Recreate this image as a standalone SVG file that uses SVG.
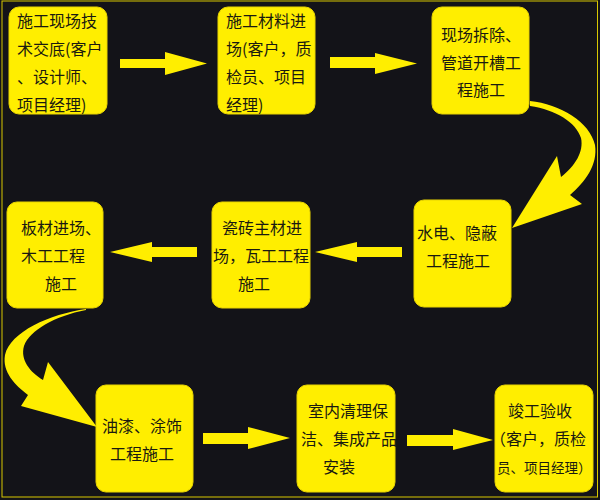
<svg xmlns="http://www.w3.org/2000/svg" width="600" height="500" viewBox="0 0 600 500">
<style>
.bg{fill:#131318}
.frame{fill:none;stroke:#d8c800;stroke-width:1}
.box{fill:#ffee00;stroke:#e8d400;stroke-width:1}
.arr{fill:#ffee00}
text{font-family:"Noto Sans CJK SC","Noto Sans CJK TC",sans-serif;font-size:16px;fill:#1a1a10}
.c{text-anchor:middle}
.sm{font-size:13.5px}
</style>
<rect class="bg" x="0" y="0" width="600" height="500"/>
<rect class="frame" x="2" y="1" width="595.5" height="496"/>
<g id="connectors">
<polygon class="arr" points="120,59 165,59 165,52 207,63.5 165,75 165,68 120,68"/>
<polygon class="arr" points="330,57 375,57 375,53 417,63.5 375,74 375,68 330,68"/>
<path class="arr" d="M530,101 C560,104 590,122 595,145 C598,165 585,182 570,195 L582,204 L512,228 L557,156 L561,177 C575,166 584,152 581,138 C576,122 556,110 530,106 Z"/>
<polygon class="arr" points="402,247 357,247 357,242 315,252 357,262 357,257 402,257"/>
<polygon class="arr" points="197,247 152,247 152,242 110,252 152,262 152,257 197,257"/>
<path class="arr" d="M86,309 C50,314 10,332 5,355 C2,372 15,385 28,395 L21,406 L97,427 L48,362 L43,380 C30,372 20,360 24,346 C30,330 55,316 86,310 Z"/>
<polygon class="arr" points="203,433 248,433 248,427 290,438 248,449 248,444 203,444"/>
<polygon class="arr" points="407,435 453,435 453,429 493,440 453,450 453,446 407,446"/>
</g>
<g id="n1">
<rect class="box" x="9" y="7" width="98" height="107" rx="10"/>
<text x="17" y="27">施工现场技</text>
<text x="17" y="55">术交底(客户</text>
<text x="17" y="83">、设计师、</text>
<text x="17" y="111">项目经理)</text>
</g>
<g id="n2">
<rect class="box" x="218" y="7" width="97" height="107" rx="10"/>
<text x="226" y="27">施工材料进</text>
<text x="226" y="55">场(客户，质</text>
<text x="226" y="83">检员、项目</text>
<text x="226" y="111">经理)</text>
</g>
<g id="n3">
<rect class="box" x="432" y="7" width="97" height="107" rx="10"/>
<text class="c" x="481" y="41">现场拆除、</text>
<text class="c" x="481" y="69">管道开槽工</text>
<text class="c" x="481" y="96">程施工</text>
</g>
<g id="n4">
<rect class="box" x="414" y="200" width="97" height="107" rx="10"/>
<text x="417" y="239">水电、隐蔽</text>
<text x="426" y="267">工程施工</text>
</g>
<g id="n5">
<rect class="box" x="212" y="202" width="98" height="106" rx="10"/>
<text x="222" y="234">瓷砖主材进</text>
<text x="213" y="262">场，瓦工工程</text>
<text x="238" y="290">施工</text>
</g>
<g id="n6">
<rect class="box" x="7" y="202" width="96" height="106" rx="10"/>
<text x="21" y="234">板材进场、</text>
<text x="21" y="262">木工工程</text>
<text x="45" y="290">施工</text>
</g>
<g id="n7">
<rect class="box" x="96" y="385" width="97" height="107" rx="10"/>
<text x="102" y="432">油漆、涂饰</text>
<text x="110" y="460">工程施工</text>
</g>
<g id="n8">
<rect class="box" x="297" y="385" width="98" height="107" rx="10"/>
<text x="308" y="417">室内清理保</text>
<text x="301" y="445">洁、集成产品</text>
<text x="323" y="473">安装</text>
</g>
<g id="n9">
<rect class="box" x="495" y="385" width="98" height="107" rx="10"/>
<text x="508" y="417">竣工验收</text>
<text x="490" y="445">（客户，质检</text>
<text class="sm" x="497" y="473">员、项目经理）</text>
</g>
</svg>
